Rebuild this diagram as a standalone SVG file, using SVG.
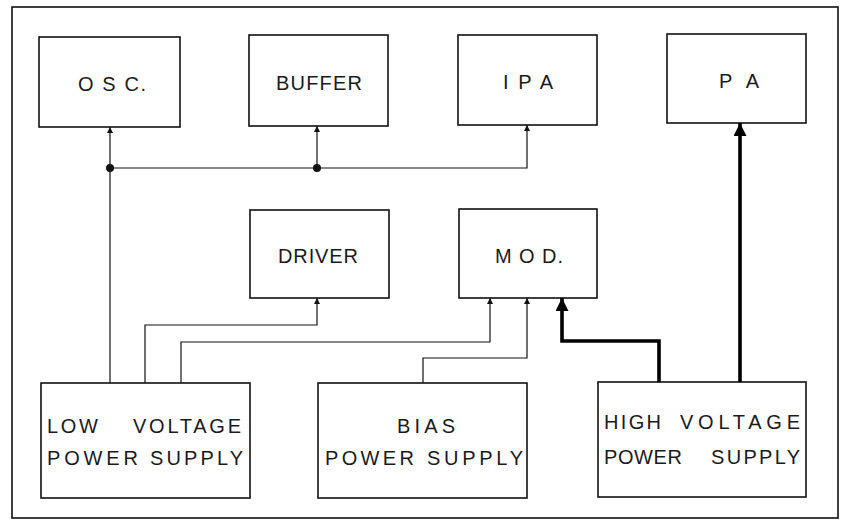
<svg xmlns="http://www.w3.org/2000/svg" width="846" height="521" viewBox="0 0 846 521">
<style>
.box{fill:none;stroke:#111;stroke-width:1.6}
.thin{fill:none;stroke:#111;stroke-width:1.2}
.thick{fill:none;stroke:#000;stroke-width:3.6}
text{font-family:"Liberation Sans",Arial,sans-serif;font-size:20px;fill:#1a1a1a}
</style>
<defs>
<marker id="a" viewBox="0 0 10 10" refX="10" refY="5" markerWidth="8" markerHeight="6" markerUnits="userSpaceOnUse" orient="auto"><path d="M0,0 L10,5 L0,10 z" fill="#111"/></marker>
<marker id="A" viewBox="0 0 10 10" refX="10" refY="5" markerWidth="15" markerHeight="13" markerUnits="userSpaceOnUse" orient="auto"><path d="M0,0 L10,5 L0,10 z" fill="#000"/></marker>
</defs>
<rect x="0" y="0" width="846" height="521" fill="#fff"/>
<rect x="12" y="7" width="826" height="511" class="box"/>

<g id="osc"><rect x="39" y="37" width="141" height="90" class="box"/><text x="78" y="91" textLength="68" lengthAdjust="spacing">O S C.</text></g>
<g id="buffer"><rect x="249" y="35" width="139" height="91" class="box"/><text x="276" y="90" textLength="86" lengthAdjust="spacing">BUFFER</text></g>
<g id="ipa"><rect x="458" y="35" width="139" height="90" class="box"/><text x="503" y="89" textLength="50" lengthAdjust="spacing">I P A</text></g>
<g id="pa"><rect x="667" y="34" width="139" height="89" class="box"/><text x="719" y="88" textLength="40" lengthAdjust="spacing">P A</text></g>
<g id="driver"><rect x="250" y="210" width="139" height="88" class="box"/><text x="278" y="263" textLength="80" lengthAdjust="spacing">DRIVER</text></g>
<g id="mod"><rect x="459" y="209" width="138" height="89" class="box"/><text x="495" y="263" textLength="68" lengthAdjust="spacing">M O D.</text></g>
<g id="lvps"><rect x="41" y="383" width="209" height="115" class="box"/>
<text y="433"><tspan x="47" textLength="51" lengthAdjust="spacing">LOW</tspan><tspan x="133" textLength="108" lengthAdjust="spacing">VOLTAGE</tspan></text>
<text y="465"><tspan x="47" textLength="91" lengthAdjust="spacing">POWER</tspan><tspan x="150" textLength="93" lengthAdjust="spacing">SUPPLY</tspan></text></g>
<g id="bias"><rect x="318" y="383" width="209" height="115" class="box"/>
<text x="397" y="433" textLength="58" lengthAdjust="spacing">BIAS</text>
<text y="465"><tspan x="325" textLength="89" lengthAdjust="spacing">POWER</tspan><tspan x="427" textLength="96" lengthAdjust="spacing">SUPPLY</tspan></text></g>
<g id="hvps"><rect x="598" y="382" width="208" height="115" class="box"/>
<text y="429"><tspan x="604" textLength="57" lengthAdjust="spacing">HIGH</tspan><tspan x="680" textLength="120" lengthAdjust="spacing">VOLTAGE</tspan></text>
<text y="464"><tspan x="604" textLength="78" lengthAdjust="spacing">POWER</tspan><tspan x="711" textLength="89" lengthAdjust="spacing">SUPPLY</tspan></text></g>

<g id="connectors">
<path class="thin" d="M110,383 V168"/>
<path class="thin" d="M110,168 H527 V125" marker-end="url(#a)"/>
<path class="thin" d="M110,168 V127" marker-end="url(#a)"/>
<path class="thin" d="M317,168 V126" marker-end="url(#a)"/>
<circle cx="110" cy="168" r="4" fill="#111"/>
<circle cx="317" cy="168" r="4" fill="#111"/>
<path class="thin" d="M145,383 V325 H317 V298" marker-end="url(#a)"/>
<path class="thin" d="M181,383 V342 H490 V298" marker-end="url(#a)"/>
<path class="thin" d="M423,383 V358 H527 V298" marker-end="url(#a)"/>
<path class="thick" d="M659,382 V341 H562 V298" marker-end="url(#A)"/>
<path class="thick" d="M740,382 V123" marker-end="url(#A)"/>
</g>
</svg>
